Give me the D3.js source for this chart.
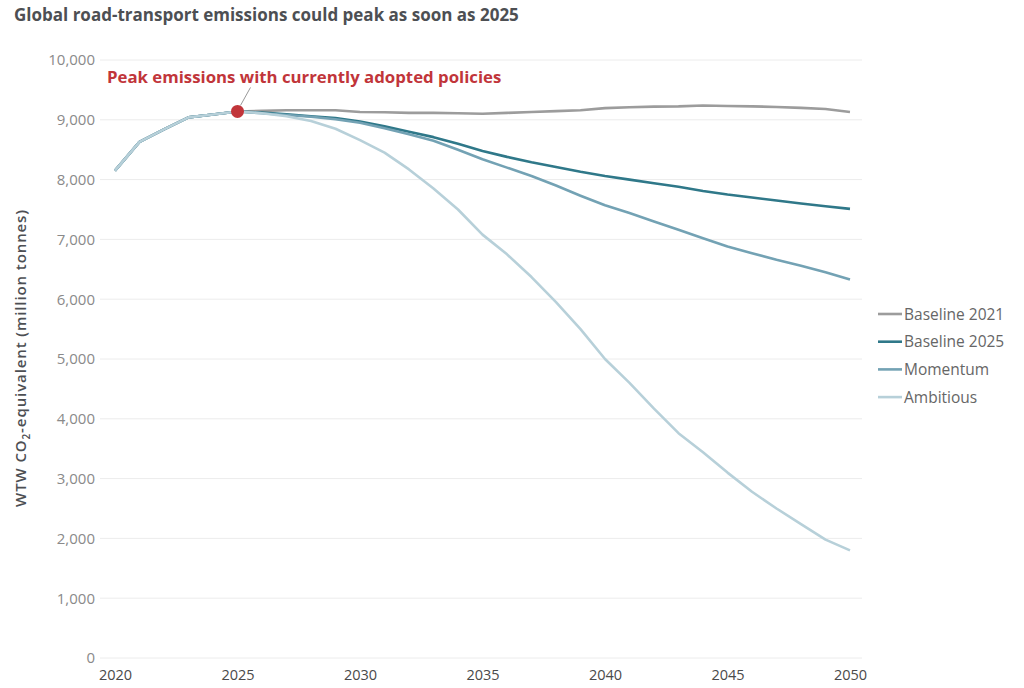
<!DOCTYPE html>
<html><head><meta charset="utf-8">
<script src="https://cdn.jsdelivr.net/npm/d3@7"></script>
<style>body{margin:0;background:#fff;}svg{display:block;font-family:"Open Sans",sans-serif;}</style>
</head><body>
<svg id="c" width="1024" height="688"></svg>
<script>
const years = d3.range(2020, 2051);
const history = [8150, 8630, 8840, 9040, 9090];
const baseline2021 = [9140,9150,9160,9160,9160,9130,9125,9115,9115,9110,9100,9115,9130,9145,9160,9195,9210,9220,9225,9240,9230,9225,9215,9200,9180,9130];
const baseline2025 = [9140,9120,9090,9060,9030,8970,8890,8800,8710,8600,8480,8380,8290,8210,8130,8060,8000,7940,7880,7810,7750,7700,7650,7600,7555,7510];
const momentum = [9140,9110,9080,9050,9010,8950,8860,8760,8650,8500,8340,8200,8060,7900,7730,7570,7440,7300,7160,7020,6880,6770,6660,6560,6450,6330];
const ambitious = [9140,9110,9060,8980,8850,8660,8450,8170,7850,7500,7080,6750,6370,5950,5500,5000,4600,4170,3760,3440,3100,2780,2500,2240,1980,1800];
const seriesNames = ["Baseline 2021","Baseline 2025","Momentum","Ambitious"];
const seriesColors = ["#9c9c9c","#2f7889","#73a2b4","#b7d0d9"];
const yTicks = d3.range(0, 10001, 1000);
const xTicks = [2020,2025,2030,2035,2040,2045,2050];
const peakYear = 2025, peakValue = 9140;

const svg = d3.select("#c");
const x = d3.scaleLinear().domain([2020,2050]).range([115,850]);
const y = d3.scaleLinear().domain([0,10000]).range([658,60]);

svg.append("text").attr("x",14).attr("y",21).text("Global road-transport emissions could peak as soon as 2025")
  .attr("font-size",17).attr("font-weight",700).attr("fill","#4d4f53");

// grid
svg.append("g").selectAll("line").data(yTicks).join("line")
  .attr("x1",100).attr("x2",862).attr("y1",d=>y(d)).attr("y2",d=>y(d))
  .attr("stroke","#ececec").attr("stroke-width",1);

// y axis
const ya = svg.append("g").attr("transform","translate(100,0)")
  .call(d3.axisLeft(y).tickValues(yTicks).tickFormat(d3.format(",")).tickSize(0).tickPadding(5));
ya.select(".domain").remove();
ya.selectAll("text").attr("font-size",15).attr("fill","#8a8a8a").attr("font-family","Open Sans");

const xa = svg.append("g").attr("transform","translate(0,665)")
  .call(d3.axisBottom(x).tickValues(xTicks).tickFormat(d3.format("d")).tickSize(0).tickPadding(5));
xa.select(".domain").remove();
xa.selectAll("text").attr("font-size",14.5).attr("fill","#4a4a4a").attr("font-family","Open Sans");

// y label
const yl = svg.append("text").attr("transform","translate(26,358) rotate(-90)").attr("text-anchor","middle")
  .attr("font-size",15).attr("font-weight",600).attr("fill","#4d4f53").attr("letter-spacing",0.9);
yl.append("tspan").text("WTW CO");
yl.append("tspan").text("2").attr("font-size",10).attr("dy",4);
yl.append("tspan").text("-equivalent (million tonnes)").attr("dy",-4);

// lines
const seriesData = [baseline2021, baseline2025, momentum, ambitious].map(v => history.concat(v));
const line = d3.line().x((d,i)=>x(years[i])).y(d=>y(d));
svg.append("g").selectAll("path").data(seriesData).join("path")
  .attr("d",line).attr("fill","none").attr("stroke",(d,i)=>seriesColors[i])
  .attr("stroke-width",2.6).attr("stroke-linejoin","round");

// annotation
svg.append("line").attr("x1",x(peakYear)+3).attr("y1",y(peakValue)-6).attr("x2",x(peakYear)+13).attr("y2",y(peakValue)-24)
  .attr("stroke","#999").attr("stroke-width",1);
svg.append("circle").attr("cx",x(peakYear)).attr("cy",y(peakValue)).attr("r",6.5).attr("fill","#c1353a");
svg.append("text").attr("x",107).attr("y",83).text("Peak emissions with currently adopted policies")
  .attr("font-size",16.8).attr("font-weight",700).attr("fill","#c1353a");

// legend
const lg = svg.append("g").selectAll("g").data(seriesNames).join("g")
  .attr("transform",(d,i)=>`translate(878,${314+i*27.7})`);
lg.append("line").attr("x1",0).attr("x2",24).attr("stroke",(d,i)=>seriesColors[i]).attr("stroke-width",2.6);
lg.append("text").attr("x",26).attr("y",5.5).text(d=>d).attr("font-size",15.5).attr("fill","#666");
</script>
</body></html>
